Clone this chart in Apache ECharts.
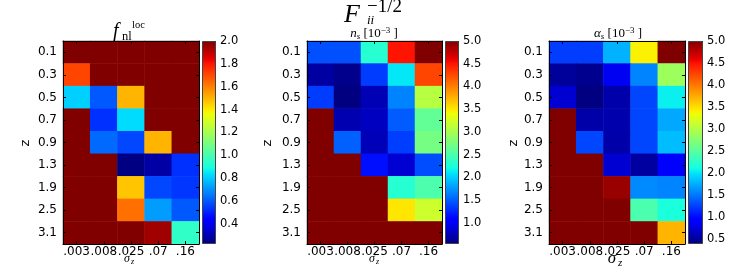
<!DOCTYPE html>
<html>
<head>
<meta charset="utf-8">
<script src="https://cdn.jsdelivr.net/npm/echarts@6/dist/echarts.min.js"></script>
<style>
html,body{margin:0;padding:0;background:#fff;}
#chart{width:747px;height:274px;}
</style>
</head>
<body>
<div id="chart"></div>
<script>
// ---- data ----
const zLabels = ['0.1','0.3','0.5','0.7','0.9','1.3','1.9','2.5','3.1'];
const sigmaLabels = ['.003','.008','.025','.07','.16'];

// rows follow zLabels, columns follow sigmaLabels
const fnlValues = [
  [2, 2, 2, 2, 2],
  [1.71, 2, 2, 2, 2],
  [0.81, 0.6, 1.5, 2, 2],
  [2, 0.53, 0.83, 2, 2],
  [2, 0.63, 0.57, 1.5, 2],
  [2, 2, 0.23, 0.28, 0.53],
  [2, 2, 1.47, 0.57, 0.54],
  [2, 2, 1.63, 0.72, 0.6],
  [2, 2, 2, 1.95, 0.95]
];
const nsValues = [
  [1.44, 1.44, 2.3, 4.5, 5],
  [0.66, 0.58, 1.35, 2.1, 4.27],
  [1.35, 0.53, 0.73, 1.66, 3.08],
  [5, 0.72, 0.78, 1.49, 2.62],
  [5, 1.51, 0.75, 1.36, 2.73],
  [5, 5, 1.15, 0.85, 1.42],
  [5, 5, 5, 2.3, 2.5],
  [5, 5, 5, 3.51, 3.2],
  [5, 5, 5, 5, 5]
];
const alphaValues = [
  [1.24, 1.24, 1.77, 3.41, 5],
  [0.5, 0.45, 0.85, 1.56, 2.88],
  [0.72, 0.39, 0.56, 1.28, 2.05],
  [5, 0.55, 0.57, 1.28, 1.73],
  [5, 1.28, 0.55, 1.28, 1.82],
  [5, 5, 0.72, 0.52, 0.9],
  [5, 5, 4.9, 1.59, 1.56],
  [5, 5, 5, 2.42, 2.15],
  [5, 5, 5, 5, 3.71]
];
const fnlRange = [0.225, 2.0];
const nsRange = [0.53, 5.0];
const alphaRange = [0.39, 5.0];
const fnlTicks = [0.4, 0.6, 0.8, 1.0, 1.2, 1.4, 1.6, 1.8, 2.0];
const nsTicks = [1.0, 1.5, 2.0, 2.5, 3.0, 3.5, 4.0, 4.5, 5.0];
const alphaTicks = [0.5, 1.0, 1.5, 2.0, 2.5, 3.0, 3.5, 4.0, 4.5, 5.0];

// ---- matplotlib jet colormap ----
function seg(t, pts){
  for (let i = 1; i < pts.length; i++){
    if (t <= pts[i][0]){
      const a = pts[i-1], b = pts[i];
      return a[1] + (b[1]-a[1]) * (t - a[0]) / (b[0] - a[0]);
    }
  }
  return pts[pts.length-1][1];
}
function jet(t){
  const r = seg(t, [[0,0],[0.35,0],[0.66,1],[0.89,1],[1,0.5]]);
  const g = seg(t, [[0,0],[0.125,0],[0.375,1],[0.64,1],[0.91,0],[1,0]]);
  const b = seg(t, [[0,0.5],[0.11,1],[0.34,1],[0.65,0],[1,0]]);
  return 'rgb(' + Math.round(r*255) + ',' + Math.round(g*255) + ',' + Math.round(b*255) + ')';
}
const N = 64;
const jetColors = [];
for (let i = 0; i <= N; i++) jetColors.push(jet(i / N));
const gradStops = [];
for (let i = 0; i <= N; i++) gradStops.push({offset: i / N, color: jet(1 - i / N)});

// ---- layout ----
const panels = [
  {values: fnlValues, range: fnlRange, ticks: fnlTicks, hm: {left: 63, width: 136}, cb: {left: 202, width: 14}},
  {values: nsValues, range: nsRange, ticks: nsTicks, hm: {left: 307, width: 135}, cb: {left: 445, width: 14}},
  {values: alphaValues, range: alphaRange, ticks: alphaTicks, hm: {left: 549, width: 136}, cb: {left: 688, width: 15}}
];
const TOP = 41, HEIGHT = 203;
const tickFont = {fontFamily: 'DejaVu Sans', fontSize: 11.5, color: '#000'};
const yTickFont = {fontFamily: 'DejaVu Sans', fontSize: 12, color: '#000'};
const xTickFont = {fontFamily: 'DejaVu Sans', fontSize: 12, color: '#000'};

const grid = [], xAxis = [], yAxis = [], series = [], visualMap = [];
panels.forEach((p, i) => {
  const gi = grid.length;
  grid.push({left: p.hm.left, top: TOP, width: p.hm.width, height: HEIGHT});
  const xb = xAxis.length;
  xAxis.push({type: 'category', gridIndex: gi, data: sigmaLabels, position: 'bottom', z: 10,
    axisLine: {show: true, lineStyle: {color: '#000', width: 1}},
    axisTick: {show: true, inside: true, alignWithLabel: true, length: 3, lineStyle: {color: '#000'}},
    axisLabel: Object.assign({margin: 2, interval: 0}, xTickFont), splitLine: {show: false}});
  xAxis.push({type: 'category', gridIndex: gi, data: sigmaLabels, position: 'top', z: 10,
    axisLine: {show: true, lineStyle: {color: '#000', width: 1}},
    axisTick: {show: true, inside: true, alignWithLabel: true, length: 3, lineStyle: {color: '#000'}},
    axisLabel: {show: false}, splitLine: {show: false}});
  const yl = yAxis.length;
  yAxis.push({type: 'category', gridIndex: gi, data: zLabels, inverse: true, position: 'left', z: 10,
    axisLine: {show: true, lineStyle: {color: '#000', width: 1}},
    axisTick: {show: true, inside: true, alignWithLabel: true, length: 3, lineStyle: {color: '#000'}},
    axisLabel: Object.assign({margin: 6, interval: 0}, yTickFont), splitLine: {show: false}});
  yAxis.push({type: 'category', gridIndex: gi, data: zLabels, inverse: true, position: 'right', z: 10,
    axisLine: {show: true, lineStyle: {color: '#000', width: 1}},
    axisTick: {show: true, inside: true, alignWithLabel: true, length: 3, lineStyle: {color: '#000'}},
    axisLabel: {show: false}, splitLine: {show: false}});
  const data = [];
  p.values.forEach((row, r) => row.forEach((v, c) => {
    data.push([c, r, Math.max(p.range[0], Math.min(p.range[1], v))]);
  }));
  const si = series.length;
  series.push({type: 'heatmap', xAxisIndex: xb, yAxisIndex: yl, data: data,
    itemStyle: {borderWidth: 0}, emphasis: {disabled: true}, progressive: 0});
  visualMap.push({type: 'continuous', show: false, seriesIndex: si, dimension: 2,
    min: p.range[0], max: p.range[1], inRange: {color: jetColors}});

  // colorbar
  const cg = grid.length;
  grid.push({left: p.cb.left, top: TOP, width: p.cb.width, height: HEIGHT});
  const cx = xAxis.length;
  xAxis.push({type: 'category', gridIndex: cg, data: ['cb'], show: false});
  const cy = yAxis.length;
  yAxis.push({type: 'value', gridIndex: cg, min: p.range[0], max: p.range[1], position: 'right',
    axisLine: {show: false},
    axisTick: {show: true, inside: true, length: 3, customValues: p.ticks, lineStyle: {color: '#000'}},
    axisLabel: Object.assign({margin: 4, customValues: p.ticks, formatter: v => v.toFixed(1)}, tickFont),
    splitLine: {show: false}});
  series.push({type: 'bar', xAxisIndex: cx, yAxisIndex: cy, stack: 'cb' + i, data: [p.range[0]],
    barWidth: '100%', itemStyle: {color: 'rgba(0,0,0,0)'}, silent: true, clip: true});
  series.push({type: 'bar', xAxisIndex: cx, yAxisIndex: cy, stack: 'cb' + i, data: [p.range[1] - p.range[0]],
    barWidth: '100%', silent: true, clip: true, z: 1,
    itemStyle: {color: new echarts.graphic.LinearGradient(0, 0, 0, 1, gradStops), borderColor: '#444', borderWidth: 1}});
});

const serif = 'Liberation Serif';
function txt(text, x, y, font, opts){
  return Object.assign({type: 'text', x: x, y: y, z: 100, style: Object.assign({text: text, font: font, fill: '#000',
    textAlign: 'left', textVerticalAlign: 'top'}, opts || {})});
}
function unitTitle(sym, cx){
  return {type: 'text', x: cx, y: 26, z: 100, style: {
    text: '{i|' + sym + '}{s|s}{n| [10}{p|−3}{n| ]}', textAlign: 'center', textVerticalAlign: 'top', fill: '#000',
    rich: {
      i: {fontFamily: serif, fontStyle: 'italic', fontSize: 13, lineHeight: 15, verticalAlign: 'middle'},
      s: {fontFamily: serif, fontStyle: 'italic', fontSize: 9, lineHeight: 9, verticalAlign: 'bottom'},
      n: {fontFamily: serif, fontSize: 13, lineHeight: 15, verticalAlign: 'middle'},
      p: {fontFamily: serif, fontSize: 9, lineHeight: 8, verticalAlign: 'top'}
    }}};
}
const graphic = [
  // main title
  txt('F', 344, 2, 'italic 26px ' + serif),
  txt('−1/2', 367, -2, '19px ' + serif),
  txt('ii', 367, 14, 'italic 13px ' + serif),
  // panel titles
  txt('f', 113, 22, 'italic 20px ' + serif),
  txt('loc', 132, 20, '10.5px ' + serif),
  txt('nl', 122, 30, '12.5px ' + serif),
  unitTitle('n', 374),
  unitTitle('α', 618),
  // x axis names
  txt('σ', 127, 259, 'italic 12px ' + serif, {textAlign: 'center', textVerticalAlign: 'middle'}),
  txt('z', 131, 262, 'italic 8px ' + serif, {textVerticalAlign: 'middle'}),
  txt('σ', 372, 259, 'italic 12px ' + serif, {textAlign: 'center', textVerticalAlign: 'middle'}),
  txt('z', 376, 262, 'italic 8px ' + serif, {textVerticalAlign: 'middle'}),
  txt('σ', 612, 259, 'italic 17px ' + serif, {textAlign: 'center', textVerticalAlign: 'middle'}),
  txt('z', 618, 263, 'italic 11px ' + serif, {textVerticalAlign: 'middle'}),
  // y axis names
  {type: 'text', x: 25.5, y: 143, rotation: Math.PI / 2, z: 100, style: {text: 'z', font: '13px DejaVu Sans', fill: '#000', textAlign: 'center', textVerticalAlign: 'middle'}},
  {type: 'text', x: 268, y: 143, rotation: Math.PI / 2, z: 100, style: {text: 'z', font: '13px DejaVu Sans', fill: '#000', textAlign: 'center', textVerticalAlign: 'middle'}},
  {type: 'text', x: 514, y: 143, rotation: Math.PI / 2, z: 100, style: {text: 'z', font: '13px DejaVu Sans', fill: '#000', textAlign: 'center', textVerticalAlign: 'middle'}}
];

const chart = echarts.init(document.getElementById('chart'), null, {renderer: 'canvas'});
chart.setOption({
  animation: false,
  backgroundColor: '#fff',
  grid: grid, xAxis: xAxis, yAxis: yAxis, series: series, visualMap: visualMap,
  graphic: graphic
});
</script>
</body>
</html>
